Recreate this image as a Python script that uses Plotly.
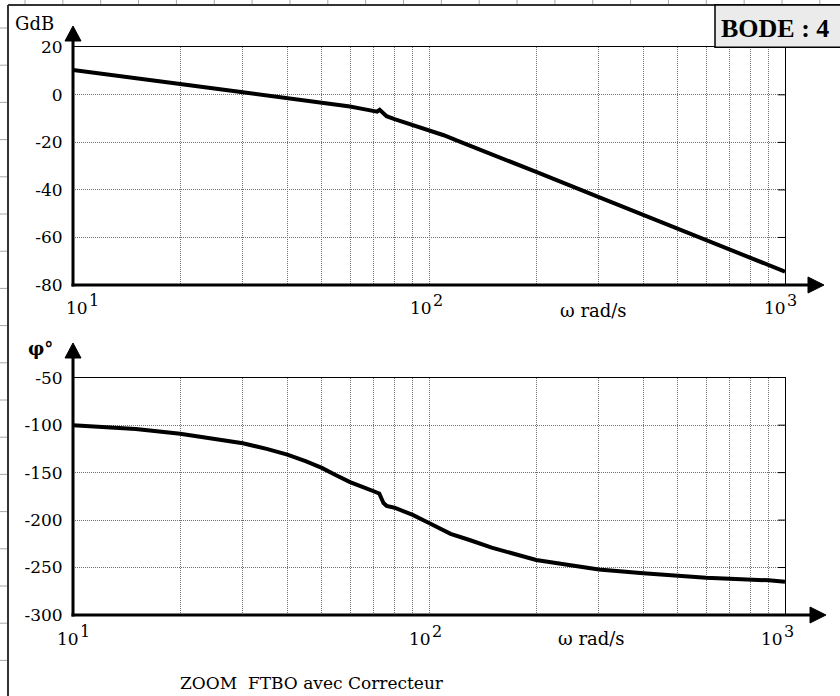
import numpy as np
import plotly.graph_objects as go

# ---------------- data ----------------
omega_gain = [10, 15, 20, 30, 40, 50, 60, 65, 70, 71.5, 72.7, 74, 76, 80, 90, 100,
              110, 120, 150, 200, 300, 400, 500, 600, 700, 800, 900, 1000]
gain_db = [10.5, 7.2, 4.6, 1.1, -1.3, -3.1, -4.9, -5.9, -7.0, -7.1, -6.3, -7.6, -9.0,
           -10.2, -12.8, -14.8, -17.0, -19.3, -24.9, -32.4, -43.0, -50.5, -56.3,
           -61.1, -65.1, -68.6, -71.6, -74.4]

omega_phase = [10, 15, 20, 25, 30, 35, 40, 45, 50, 55, 60, 65, 70, 72.5, 74.5, 76, 80,
               90, 100, 115, 130, 150, 175, 200, 250, 300, 400, 500, 600, 700, 800,
               900, 1000]
phase_deg = [-100, -104, -109, -114, -119, -125, -131, -138, -145, -153, -160, -165,
             -169, -172, -182, -185, -187, -194.6, -203, -214.5, -221, -229, -236,
             -242, -247.5, -252, -256, -259, -260.7, -261.8, -262.5, -263.5, -265]

x_grid_vals = [10, 20, 30, 40, 50, 60, 70, 80, 90, 100, 200, 300, 400, 500, 600, 700,
               800, 900, 1000]
x_label_vals = [10, 100, 1000]
x_label_exp = ["1", "2", "3"]
gain_ticks = [-80, -60, -40, -20, 0, 20]
gain_tick_text = ["-80", "-60", "-40", "-20", "0", "20"]
phase_ticks = [-300, -250, -200, -150, -100, -50]
phase_tick_text = ["-300", "-250", "-200", "-150", "-100", "-50"]

# ---------------- helpers ----------------
W, H = 840, 696


def px(x):
    return x / W


def py(y):
    return 1 - y / H


SERIF = "DejaVu Serif"
TICKFONT = dict(family=SERIF, size=17, color="black")

fig = go.Figure()
fig.add_trace(go.Scatter(x=omega_gain, y=gain_db, mode="lines",
                         line=dict(color="black", width=4),
                         xaxis="x", yaxis="y", showlegend=False, hoverinfo="skip"))
fig.add_trace(go.Scatter(x=omega_phase, y=phase_deg, mode="lines",
                         line=dict(color="black", width=4),
                         xaxis="x2", yaxis="y2", showlegend=False, hoverinfo="skip"))

# plot area pixel geometry
X0, X1 = 73, 785
TOP = (47.3, 285)
BOT = (377.7, 615)

common_x = dict(type="log", range=[1, 3], tickmode="array", tickvals=x_grid_vals,
                showticklabels=False, ticks="", showgrid=True, gridcolor="#707070",
                griddash="1px,1px", gridwidth=1, showline=True, mirror=True,
                linecolor="black", linewidth=1, zeroline=False, automargin=False,
                domain=[px(X0), px(X1)])
common_y = dict(tickmode="array", ticks="", showgrid=True, gridcolor="#707070",
                griddash="1px,1px", gridwidth=1, showline=True, mirror=True,
                linecolor="black", linewidth=1, zeroline=False, tickfont=TICKFONT,
                ticklabelstandoff=6, automargin=False)

fig.update_layout(
    width=W, height=H, margin=dict(l=0, r=0, t=0, b=0, autoexpand=False),
    paper_bgcolor="white", plot_bgcolor="white", showlegend=False,
    xaxis=dict(common_x, anchor="y"),
    yaxis=dict(common_y, anchor="x", range=[-80, 20], tickvals=gain_ticks,
               ticktext=gain_tick_text, domain=[py(TOP[1]), py(TOP[0])]),
    xaxis2=dict(common_x, anchor="y2"),
    yaxis2=dict(common_y, anchor="x2", range=[-300, -50], tickvals=phase_ticks,
                ticktext=phase_tick_text, domain=[py(BOT[1]), py(BOT[0])]),
)

shapes = []
# notebook paper marks outside the frame
for k in range(22):
    xx = 25 + 37.85 * k
    shapes.append(dict(type="line", xref="paper", yref="paper", x0=px(xx), x1=px(xx),
                       y0=py(0), y1=py(5), line=dict(color="#a8a8a8", width=1)))
for k in range(18):
    yy = 28 + 37.2 * k
    shapes.append(dict(type="line", xref="paper", yref="paper", x0=px(0), x1=px(8),
                       y0=py(yy), y1=py(yy), line=dict(color="#a8a8a8", width=1)))
# outer frame
shapes.append(dict(type="line", xref="paper", yref="paper", x0=px(8), x1=px(8),
                   y0=py(5), y1=py(700), line=dict(color="#333", width=2)))
shapes.append(dict(type="line", xref="paper", yref="paper", x0=px(8), x1=px(845),
                   y0=py(5), y1=py(5), line=dict(color="#333", width=2)))
# BODE box
shapes.append(dict(type="rect", xref="paper", yref="paper", x0=px(715), x1=px(845),
                   y0=py(47.3), y1=py(5), fillcolor="#ebebeb",
                   line=dict(color="black", width=1.5)))

# thick axes with arrows
for (ytop, ybot), tipy, tipx in [(TOP, 26, 824), (BOT, 343, 826)]:
    shapes.append(dict(type="line", xref="paper", yref="paper", x0=px(X0), x1=px(X0),
                       y0=py(ybot + 1.5), y1=py(tipy + 12),
                       line=dict(color="black", width=3)))
    shapes.append(dict(type="line", xref="paper", yref="paper", x0=px(X0 - 1.5),
                       x1=px(tipx - 14), y0=py(ybot), y1=py(ybot),
                       line=dict(color="black", width=3)))
    # y arrowhead
    shapes.append(dict(type="path", xref="paper", yref="paper",
                       path=f"M {px(X0)},{py(tipy)} L {px(X0 - 8)},{py(tipy + 15)} "
                            f"L {px(X0 + 8)},{py(tipy + 15)} Z",
                       fillcolor="black", line=dict(color="black", width=1)))
    # x arrowhead
    shapes.append(dict(type="path", xref="paper", yref="paper",
                       path=f"M {px(tipx)},{py(ybot)} L {px(tipx - 16)},{py(ybot - 8)} "
                            f"L {px(tipx - 16)},{py(ybot + 8)} Z",
                       fillcolor="black", line=dict(color="black", width=1)))

# short solid ticks on the right border
for yref, xref, vals in [("y", "x domain", gain_ticks[1:-1]),
                         ("y2", "x2 domain", phase_ticks[1:-1])]:
    for v in vals:
        shapes.append(dict(type="line", xref=xref, yref=yref, x0=1 - 7 / 712, x1=1,
                           y0=v, y1=v, line=dict(color="black", width=1)))

fig.update_layout(shapes=shapes)

ann = []
# x tick labels (decades): base "10" plus a large superscript exponent
for (xref, ypix, shifts) in [("x", 308, [4, -8, -10]), ("x2", 639, [-5, -9, -13])]:
    for v, e, s in zip(x_label_vals, x_label_exp, shifts):
        ann.append(dict(xref=xref, yref="paper", x=np.log10(v), y=py(ypix), text="10",
                        showarrow=False, xshift=s, font=TICKFONT,
                        xanchor="center", yanchor="middle"))
        ann.append(dict(xref=xref, yref="paper", x=np.log10(v), y=py(ypix - 8), text=e,
                        showarrow=False, xshift=s + 17,
                        font=dict(family=SERIF, size=16, color="black"),
                        xanchor="center", yanchor="middle"))
ann += [
    dict(xref="paper", yref="paper", x=px(13), y=py(23), text="GdB", showarrow=False,
         xanchor="left", yanchor="middle", font=dict(family=SERIF, size=18, color="black")),
    dict(xref="paper", yref="paper", x=px(26), y=py(349), text="<b>φ°</b>",
         showarrow=False, xanchor="left", yanchor="middle",
         font=dict(family=SERIF, size=18, color="black")),
    dict(xref="paper", yref="paper", x=px(593), y=py(310), text="ω rad/s",
         showarrow=False, xanchor="center", yanchor="middle",
         font=dict(family=SERIF, size=18, color="black")),
    dict(xref="paper", yref="paper", x=px(591), y=py(638), text="ω rad/s",
         showarrow=False, xanchor="center", yanchor="middle",
         font=dict(family=SERIF, size=18, color="black")),
    dict(xref="paper", yref="paper", x=px(775), y=py(28), text="<b>BODE : 4</b>",
         showarrow=False, xanchor="center", yanchor="middle",
         font=dict(family="Liberation Serif", size=26, color="black")),
    dict(xref="paper", yref="paper", x=px(312), y=py(683),
         text="ZOOM&nbsp; FTBO avec Correcteur", showarrow=False,
         xanchor="center", yanchor="middle",
         font=dict(family=SERIF, size=17, color="black")),
]
fig.update_layout(annotations=ann)

fig.write_html("out.html", config={"displayModeBar": False},
               post_script="document.body.style.margin='0';"
                           "document.body.style.overflow='hidden';")
